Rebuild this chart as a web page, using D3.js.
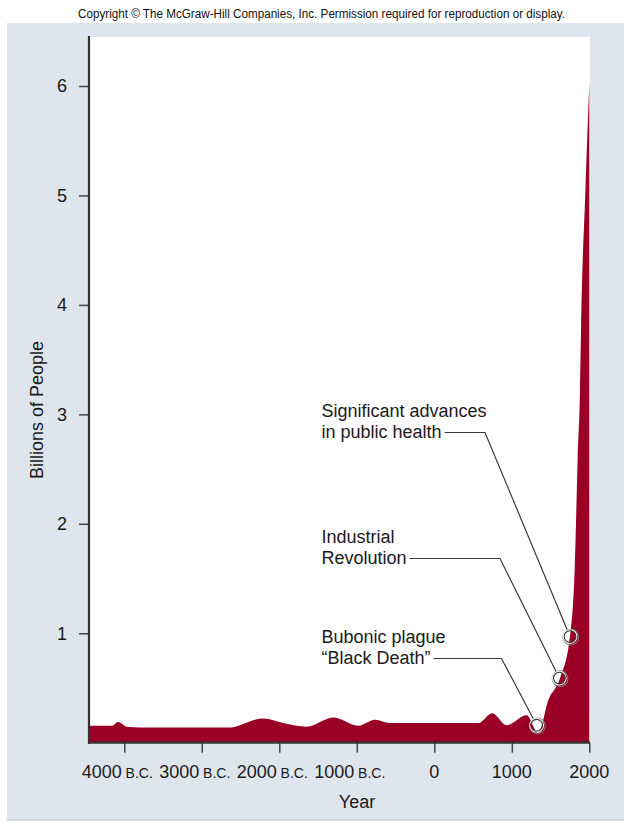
<!DOCTYPE html>
<html>
<head>
<meta charset="utf-8">
<script src="https://cdn.jsdelivr.net/npm/d3@7"></script>
<style>
  html, body { margin: 0; padding: 0; background: #ffffff; }
  svg { display: block; font-family: "Liberation Sans", Arial, Helvetica, sans-serif; }
</style>
</head>
<body>
<svg id="chart" width="624" height="822"></svg>
<script>
// World population over time, in billions of people (year; negative = B.C.)
const years = [-4455, -4160, -4080, -3960, -3800, -2620, -2450, -2313, -2206, -1948, -1646, -1303, -981, -765, -572,
               568, 748, 934, 1192, 1342, 1471, 1622, 1751, 1815, 1850, 1880, 1893, 1950, 2000];
const population = [0.155, 0.155, 0.19, 0.145, 0.14, 0.14, 0.175, 0.21, 0.22, 0.18, 0.146, 0.23, 0.155, 0.21, 0.18,
                    0.18, 0.27, 0.16, 0.25, 0.086, 0.39, 0.59, 0.975, 1.66, 2.6, 3.22, 3.77, 5.05, 6.03];

// Axis ticks
const yTicks = [1, 2, 3, 4, 5, 6];
const xTicks = [-4000, -3000, -2000, -1000, 0, 1000, 2000];
const xTickNumbers = ["4000", "3000", "2000", "1000", "0", "1000", "2000"];
const xTickEras = ["B.C.", "B.C.", "B.C.", "B.C.", "", "", ""];

// Callouts: lines of text and the point on the curve they mark
const noteLines = [
  ["Significant advances", "in public health"],
  ["Industrial", "Revolution"],
  ["Bubonic plague", "\u201CBlack Death\u201D"]
];
const noteYears = [1751, 1613, 1321];
const noteValues = [0.97, 0.59, 0.16];

const titleText = "Copyright \u00A9 The McGraw-Hill Companies, Inc. Permission required for reproduction or display.";

const svg = d3.select("#chart");

// Page header
svg.append("text")
  .attr("x", 321.5).attr("y", 17.5)
  .attr("text-anchor", "middle")
  .attr("font-size", 12)
  .attr("textLength", 487).attr("lengthAdjust", "spacingAndGlyphs")
  .attr("fill", "#111")
  .text(titleText);

// Background panel
svg.append("rect")
  .attr("x", 7).attr("y", 23).attr("width", 617).attr("height", 797)
  .attr("fill", "#dfe5ed");
svg.append("line")
  .attr("x1", 7).attr("x2", 624).attr("y1", 820).attr("y2", 820)
  .attr("stroke", "#c9ced6").attr("stroke-width", 1.5);

const x = d3.scaleLinear().domain([-4455, 2009]).range([89, 590]);
const y = d3.scaleLinear().domain([0, 6]).range([742.7, 86]);

// Plot area
svg.append("rect")
  .attr("x", x.range()[0]).attr("y", 37)
  .attr("width", x.range()[1] - x.range()[0]).attr("height", y(0) - 37)
  .attr("fill", "#ffffff");

const data = years.map((yr, i) => ({ year: yr, value: population[i] }));

const area = d3.area()
  .x(d => x(d.year))
  .y0(y(0))
  .y1(d => y(d.value))
  .curve(d3.curveMonotoneX);

svg.append("path")
  .datum(data)
  .attr("d", area)
  .attr("fill", "#9a0026");

// Y axis
const yAxis = svg.append("g")
  .attr("transform", `translate(${x.range()[0]},0)`)
  .call(d3.axisLeft(y).tickValues(yTicks).tickSize(10).tickPadding(12).tickFormat(d3.format("d")));
yAxis.select(".domain").remove();
yAxis.selectAll(".tick line").attr("stroke", "#444").attr("stroke-width", 1.5);
yAxis.selectAll(".tick text")
  .attr("font-size", 18).attr("fill", "#1a1a1a")
  .attr("font-family", "Liberation Sans, Arial, sans-serif");

svg.append("line")
  .attr("x1", x.range()[0]).attr("x2", x.range()[0])
  .attr("y1", 36).attr("y2", y(0) + 1)
  .attr("stroke", "#333").attr("stroke-width", 2.2);

// X axis
const xAxis = svg.append("g")
  .attr("transform", `translate(0,${y(0)})`)
  .call(d3.axisBottom(x).tickValues(xTicks).tickSize(10).tickFormat(""));
xAxis.select(".domain").remove();
xAxis.selectAll(".tick line").attr("stroke", "#444").attr("stroke-width", 1.5);

svg.append("line")
  .attr("x1", x.range()[0] - 1).attr("x2", x.range()[1])
  .attr("y1", y(0)).attr("y2", y(0))
  .attr("stroke", "#333").attr("stroke-width", 2.2);

const xLabels = svg.append("g")
  .attr("font-size", 18).attr("fill", "#1a1a1a")
  .attr("text-anchor", "middle");
xTicks.forEach((t, i) => {
  const lbl = xLabels.append("text")
    .attr("x", x(t) - (xTickEras[i] ? 7 : 0))
    .attr("y", 777.5);
  lbl.append("tspan").text(xTickNumbers[i]);
  if (xTickEras[i]) {
    lbl.append("tspan").attr("font-size", 14).text("\u00A0" + xTickEras[i]);
  }
});

// Axis titles
svg.append("text")
  .attr("x", 357).attr("y", 808)
  .attr("text-anchor", "middle")
  .attr("font-size", 18).attr("fill", "#1a1a1a")
  .text("Year");

svg.append("text")
  .attr("transform", "translate(43,410) rotate(-90)")
  .attr("text-anchor", "middle")
  .attr("font-size", 18).attr("fill", "#1a1a1a")
  .text("Billions of People");

// Callouts
const noteLayer = svg.append("g");
const textX = 321.5;
const firstBaseline = [416.5, 542.5, 642.5];
const lineGap = 21.5;
const elbowX = [485, 500, 501.5];

noteLines.forEach((lines, i) => {
  const t = noteLayer.append("text")
    .attr("font-size", 18).attr("fill", "#1a1a1a");
  lines.forEach((ln, j) => {
    t.append("tspan")
      .attr("x", textX)
      .attr("y", firstBaseline[i] + j * lineGap)
      .text(ln);
  });
});

// Leader lines, drawn after text so widths are known
noteLines.forEach((lines, i) => {
  const lastLine = noteLayer.selectAll("text").nodes()[i].lastChild;
  const lineEnd = textX + lastLine.getComputedTextLength() + 3;
  const yLead = firstBaseline[i] + lineGap - 5.5;
  const cx = x(noteYears[i]);
  const cy = y(noteValues[i]);
  const r = 7;
  const dx = cx - elbowX[i], dy = cy - yLead;
  const len = Math.hypot(dx, dy);
  const ex = cx - dx / len * r, ey = cy - dy / len * r;
  noteLayer.append("path")
    .attr("d", `M${lineEnd},${yLead}H${elbowX[i]}L${ex},${ey}`)
    .attr("fill", "none")
    .attr("stroke", "#3a3a3a")
    .attr("stroke-width", 1.2);
  // Ring marker: soft grey outer ring, white gap, dark inner ring
  noteLayer.append("circle")
    .attr("cx", cx + 0.8).attr("cy", cy + 0.6).attr("r", r + 0.8)
    .attr("fill", "none").attr("stroke", "#7a7a7a").attr("stroke-width", 1.1);
  noteLayer.append("circle")
    .attr("cx", cx).attr("cy", cy).attr("r", r - 0.2)
    .attr("fill", "none").attr("stroke", "#f2f2f2").attr("stroke-width", 1.2);
  noteLayer.append("circle")
    .attr("cx", cx).attr("cy", cy).attr("r", r - 1.2)
    .attr("fill", "none").attr("stroke", "#3a3a3a").attr("stroke-width", 1.1);
});
</script>
</body>
</html>
